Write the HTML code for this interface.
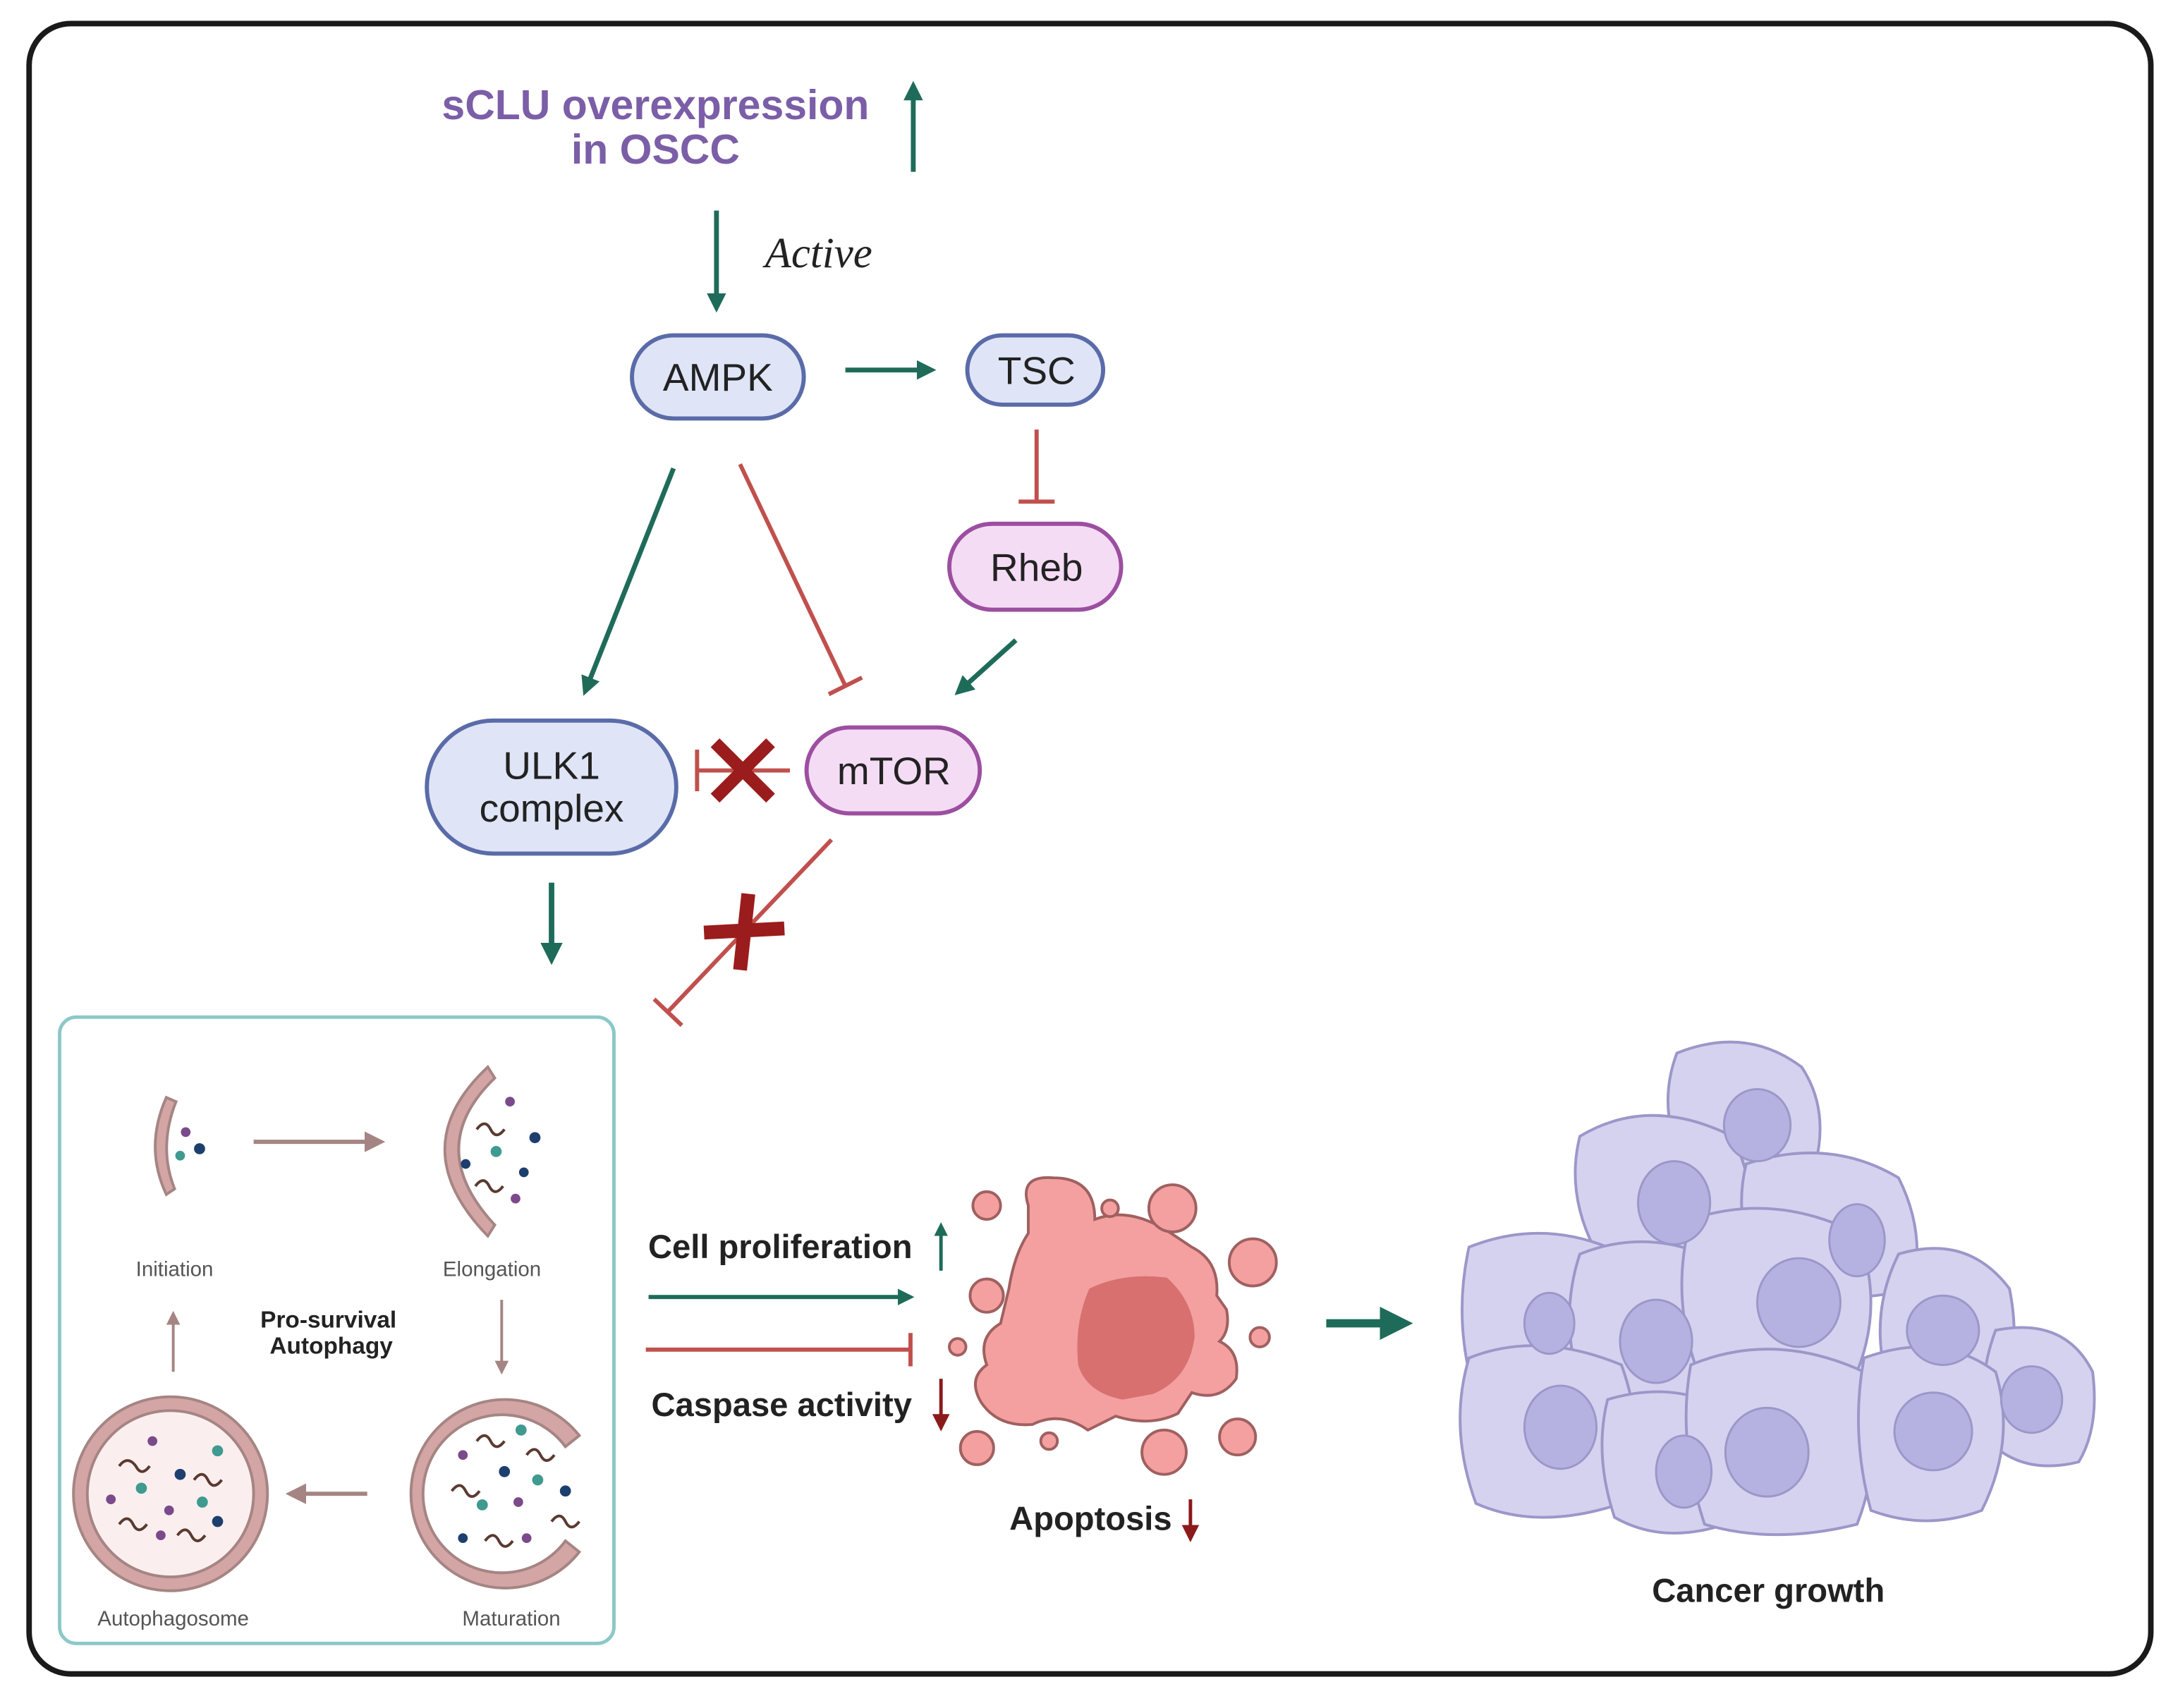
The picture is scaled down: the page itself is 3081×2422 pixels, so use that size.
<!DOCTYPE html>
<html><head><meta charset="utf-8"><style>
html,body{margin:0;padding:0;background:#fff;}
svg{display:block;}
text{font-family:"Liberation Sans",sans-serif;}
</style></head><body>
<svg width="3081" height="2422" viewBox="0 0 1568 1232.6" preserveAspectRatio="none" xmlns="http://www.w3.org/2000/svg">
<defs>
<marker id="ag" viewBox="0 0 10 10" refX="6" refY="5" markerWidth="4" markerHeight="4" orient="auto"><path d="M0,0 L10,5 L0,10 z" fill="#1f6b5a"/></marker>
<marker id="ab" viewBox="0 0 10 10" refX="6" refY="5" markerWidth="5" markerHeight="5" orient="auto"><path d="M0,0 L10,5 L0,10 z" fill="#a58583"/></marker>
<marker id="ar" viewBox="0 0 10 10" refX="6" refY="5" markerWidth="5" markerHeight="5" orient="auto"><path d="M0,0 L10,5 L0,10 z" fill="#8b1a1a"/></marker>
</defs>
<rect x="21" y="17" width="1531" height="1191" rx="30" fill="#fff" stroke="#1a1a1a" stroke-width="4"/>

<text x="473" y="86" font-size="30" font-weight="bold" fill="#7b5ea7" text-anchor="middle">sCLU overexpression</text>
<text x="473" y="118" font-size="30" font-weight="bold" fill="#7b5ea7" text-anchor="middle">in OSCC</text>
<line x1="659" y1="124" x2="659" y2="64" stroke="#1f6b5a" stroke-width="3.5" marker-end="url(#ag)"/>
<line x1="517" y1="152" x2="517" y2="220" stroke="#1f6b5a" stroke-width="3.5" marker-end="url(#ag)"/>
<text x="552" y="193" font-size="31" font-style="italic" fill="#222" style="font-family:'Liberation Serif',serif">Active</text>

<rect x="456" y="242" width="124" height="60" rx="30" fill="#dfe5f7" stroke="#5a6ba8" stroke-width="3"/>
<text x="518" y="282" font-size="28" fill="#222" text-anchor="middle">AMPK</text>
<line x1="610" y1="267" x2="670" y2="267" stroke="#1f6b5a" stroke-width="3.5" marker-end="url(#ag)"/>
<rect x="698" y="242" width="98" height="50" rx="25" fill="#dfe5f7" stroke="#5a6ba8" stroke-width="3"/>
<text x="748" y="277" font-size="28" fill="#222" text-anchor="middle">TSC</text>
<line x1="748" y1="310" x2="748" y2="362" stroke="#c0504d" stroke-width="3"/>
<line x1="735" y1="362" x2="761" y2="362" stroke="#c0504d" stroke-width="3"/>
<rect x="685" y="378" width="124" height="62" rx="31" fill="#f5dcf5" stroke="#9c4fa0" stroke-width="3"/>
<text x="748" y="419" font-size="28" fill="#222" text-anchor="middle">Rheb</text>
<line x1="733" y1="462" x2="693" y2="498" stroke="#1f6b5a" stroke-width="3.5" marker-end="url(#ag)"/>
<line x1="486" y1="338" x2="423" y2="497" stroke="#1f6b5a" stroke-width="3.5" marker-end="url(#ag)"/>
<line x1="534" y1="335" x2="610" y2="495" stroke="#c0504d" stroke-width="3"/>
<line x1="598" y1="501" x2="622" y2="489" stroke="#c0504d" stroke-width="3"/>

<rect x="308" y="520" width="180" height="96" rx="48" fill="#dfe5f7" stroke="#5a6ba8" stroke-width="3"/>
<text x="398" y="562" font-size="28" fill="#222" text-anchor="middle">ULK1</text>
<text x="398" y="593" font-size="28" fill="#222" text-anchor="middle">complex</text>
<rect x="582" y="525" width="125" height="62" rx="31" fill="#f5dcf5" stroke="#9c4fa0" stroke-width="3"/>
<text x="645" y="566" font-size="28" fill="#222" text-anchor="middle">mTOR</text>
<line x1="570" y1="556" x2="503" y2="556" stroke="#c0504d" stroke-width="3"/>
<line x1="503" y1="541" x2="503" y2="571" stroke="#c0504d" stroke-width="3"/>
<path d="M516,536 L556,576 M556,536 L516,576" stroke="#9b1c1c" stroke-width="9"/>
<line x1="398" y1="637" x2="398" y2="690" stroke="#1f6b5a" stroke-width="4" marker-end="url(#ag)"/>
<line x1="600" y1="606" x2="482" y2="730" stroke="#c0504d" stroke-width="3"/>
<line x1="472" y1="721" x2="492" y2="740" stroke="#c0504d" stroke-width="3"/>
<path d="M540,645 L534,700 M508,673 L566,670" stroke="#9b1c1c" stroke-width="10"/>

<rect x="43" y="734" width="400" height="452" rx="12" fill="#fff" stroke="#8cc8c8" stroke-width="2.5"/>
<g fill="#fbeeee" stroke="#a58583" stroke-width="2">
<path d="M120,792 Q104,828 120,862 L126,858 Q114,828 127,795 Z" fill="#d4a5a5"/>
<path d="M352,770 Q290,828 352,892 L357,884 Q305,828 357,778 Z" fill="#d4a5a5"/>
<circle cx="123" cy="1078" r="70" fill="#d4a5a5"/>
<circle cx="123" cy="1078" r="60" fill="#fbeeee"/>
<path d="M418,1120 A68,68 0 1 1 418,1036 L408,1044 A57,57 0 1 0 408,1112 Z" fill="#d4a5a5"/>
</g>
<g>
<circle cx="134" cy="817" r="3.5" fill="#7b4a8a"/><circle cx="144" cy="829" r="4" fill="#1d3f6e"/><circle cx="130" cy="834" r="3.5" fill="#3f9a8f"/>
<circle cx="368" cy="795" r="3.5" fill="#7b4a8a"/><circle cx="386" cy="821" r="4" fill="#1d3f6e"/><circle cx="358" cy="831" r="4" fill="#3f9a8f"/><circle cx="336" cy="840" r="3.5" fill="#1d3f6e"/><circle cx="378" cy="846" r="3.5" fill="#1d3f6e"/><circle cx="372" cy="865" r="3.5" fill="#7b4a8a"/>
<path d="M344,815 q6,-8 10,0 q4,8 10,0 M343,856 q6,-8 10,0 q4,8 10,0" stroke="#5a3a30" stroke-width="2" fill="none"/>
<circle cx="110" cy="1040" r="3.5" fill="#7b4a8a"/><circle cx="157" cy="1047" r="4" fill="#3f9a8f"/><circle cx="130" cy="1064" r="4" fill="#1d3f6e"/><circle cx="102" cy="1074" r="4" fill="#3f9a8f"/><circle cx="146" cy="1084" r="4" fill="#3f9a8f"/><circle cx="80" cy="1082" r="3.5" fill="#7b4a8a"/><circle cx="122" cy="1090" r="3.5" fill="#7b4a8a"/><circle cx="157" cy="1098" r="4" fill="#1d3f6e"/><circle cx="116" cy="1108" r="3.5" fill="#7b4a8a"/>
<path d="M86,1058 q6,-8 12,0 q4,8 10,0 M140,1068 q6,-8 10,0 q4,8 10,0 M86,1100 q6,-8 10,0 q4,8 10,0 M128,1108 q6,-8 10,0 q4,8 10,0" stroke="#5a3a30" stroke-width="2" fill="none"/>
<circle cx="376" cy="1032" r="4" fill="#3f9a8f"/><circle cx="334" cy="1050" r="3.5" fill="#7b4a8a"/><circle cx="364" cy="1062" r="4" fill="#1d3f6e"/><circle cx="388" cy="1068" r="4" fill="#3f9a8f"/><circle cx="408" cy="1076" r="4" fill="#1d3f6e"/><circle cx="348" cy="1086" r="4" fill="#3f9a8f"/><circle cx="374" cy="1084" r="3.5" fill="#7b4a8a"/><circle cx="334" cy="1110" r="3.5" fill="#1d3f6e"/><circle cx="380" cy="1110" r="3.5" fill="#7b4a8a"/>
<path d="M344,1040 q6,-8 10,0 q4,8 10,0 M380,1050 q6,-8 10,0 q4,8 10,0 M326,1076 q6,-8 10,0 q4,8 10,0 M398,1098 q6,-8 10,0 q4,8 10,0 M350,1112 q6,-8 10,0 q4,8 10,0" stroke="#5a3a30" stroke-width="2" fill="none"/>
</g>
<line x1="183" y1="824" x2="272" y2="824" stroke="#a58583" stroke-width="3" marker-end="url(#ab)"/>
<line x1="362" y1="938" x2="362" y2="988" stroke="#a58583" stroke-width="2" marker-end="url(#ab)"/>
<line x1="265" y1="1078" x2="212" y2="1078" stroke="#a58583" stroke-width="3" marker-end="url(#ab)"/>
<line x1="125" y1="990" x2="125" y2="950" stroke="#a58583" stroke-width="2" marker-end="url(#ab)"/>
<g font-size="15" fill="#555" text-anchor="middle">
<text x="126" y="921">Initiation</text><text x="355" y="921">Elongation</text>
<text x="125" y="1173">Autophagosome</text><text x="369" y="1173">Maturation</text>
</g>
<text x="237" y="958" font-size="17" font-weight="bold" fill="#222" text-anchor="middle">Pro-survival</text>
<text x="239" y="977" font-size="17" font-weight="bold" fill="#222" text-anchor="middle">Autophagy</text>

<text x="563" y="908" font-size="24" font-weight="bold" fill="#222" text-anchor="middle">Cell proliferation</text>
<line x1="679" y1="917" x2="679" y2="886" stroke="#1f6b5a" stroke-width="2.5" marker-end="url(#ag)"/>
<line x1="468" y1="936" x2="655" y2="936" stroke="#1f6b5a" stroke-width="3" marker-end="url(#ag)"/>
<line x1="466" y1="974" x2="657" y2="974" stroke="#c0504d" stroke-width="3"/>
<line x1="657" y1="962" x2="657" y2="986" stroke="#c0504d" stroke-width="3"/>
<text x="564" y="1022" font-size="24" font-weight="bold" fill="#222" text-anchor="middle">Caspase activity</text>
<line x1="679" y1="995" x2="679" y2="1028" stroke="#8b1a1a" stroke-width="2.5" marker-end="url(#ar)"/>

<g fill="#f4a0a0" stroke="#a06060" stroke-width="2">
<path d="M742,870 Q735,848 760,850 Q790,850 790,880 Q815,870 845,890 L860,900 Q880,910 878,935 L885,945 Q888,960 880,968 Q895,975 892,995 Q880,1012 860,1005 L850,1020 Q830,1030 805,1022 L785,1032 Q765,1018 745,1028 Q720,1030 708,1012 Q698,995 712,985 Q705,965 722,955 L728,930 Q732,905 742,890 Z"/>
<circle cx="712" cy="870" r="10"/><circle cx="801" cy="872" r="6"/><circle cx="846" cy="872" r="17"/><circle cx="904" cy="911" r="17"/><circle cx="712" cy="935" r="12"/><circle cx="691" cy="972" r="6"/><circle cx="909" cy="965" r="7"/><circle cx="705" cy="1045" r="12"/><circle cx="757" cy="1040" r="6"/><circle cx="840" cy="1048" r="16"/><circle cx="893" cy="1037" r="13"/>
</g>
<path d="M786,930 Q810,918 842,922 Q862,940 862,965 Q858,995 832,1006 L810,1010 Q784,1005 778,985 Q775,955 786,930 Z" fill="#d87070"/>
<line x1="957" y1="955" x2="1010" y2="955" stroke="#1f6b5a" stroke-width="6" marker-end="url(#ag)"/>
<text x="787" y="1104" font-size="24" font-weight="bold" fill="#222" text-anchor="middle">Apoptosis</text>
<line x1="859" y1="1082" x2="859" y2="1108" stroke="#8b1a1a" stroke-width="2.5" marker-end="url(#ar)"/>

<g fill="#d4d2ee" stroke="#9b97c9" stroke-width="2">
<path d="M1210,760 Q1260,740 1300,770 Q1320,800 1310,840 Q1260,860 1215,840 Q1195,800 1210,760 Z"/>
<path d="M1140,820 Q1190,790 1250,820 Q1270,860 1260,900 Q1210,920 1150,900 Q1130,860 1140,820 Z"/>
<path d="M1260,840 Q1320,820 1370,850 Q1390,890 1380,930 Q1320,945 1270,925 Q1250,880 1260,840 Z"/>
<path d="M1060,900 Q1110,880 1160,900 Q1180,950 1160,990 Q1110,1010 1060,990 Q1050,945 1060,900 Z"/>
<path d="M1370,905 Q1420,890 1450,930 Q1460,980 1440,1010 Q1390,1020 1360,990 Q1350,945 1370,905 Z"/>
<path d="M1440,960 Q1490,950 1510,990 Q1515,1030 1500,1055 Q1460,1065 1435,1040 Q1425,1000 1440,960 Z"/>
<path d="M1140,905 Q1190,885 1240,910 Q1260,960 1240,1000 Q1190,1020 1140,1000 Q1125,950 1140,905 Z"/>
<path d="M1220,880 Q1280,860 1340,890 Q1360,940 1340,990 Q1280,1010 1225,990 Q1205,935 1220,880 Z"/>
<path d="M1060,980 Q1110,960 1170,985 Q1190,1040 1170,1085 Q1110,1105 1065,1085 Q1045,1030 1060,980 Z"/>
<path d="M1160,1010 Q1210,995 1250,1020 Q1265,1065 1245,1100 Q1200,1115 1165,1095 Q1150,1050 1160,1010 Z"/>
<path d="M1220,985 Q1280,960 1345,990 Q1360,1050 1340,1100 Q1280,1115 1230,1100 Q1210,1040 1220,985 Z"/>
<path d="M1345,980 Q1400,960 1440,990 Q1455,1040 1430,1090 Q1390,1105 1350,1090 Q1335,1035 1345,980 Z"/>
</g>
<g fill="#b5b1e0" stroke="#9b97c9" stroke-width="1.5">
<ellipse cx="1268" cy="812" rx="24" ry="26"/><ellipse cx="1208" cy="868" rx="26" ry="30"/><ellipse cx="1340" cy="895" rx="20" ry="26"/>
<ellipse cx="1118" cy="955" rx="18" ry="22"/><ellipse cx="1402" cy="960" rx="26" ry="25"/><ellipse cx="1466" cy="1010" rx="22" ry="24"/>
<ellipse cx="1195" cy="968" rx="26" ry="30"/><ellipse cx="1298" cy="940" rx="30" ry="32"/><ellipse cx="1126" cy="1030" rx="26" ry="30"/>
<ellipse cx="1215" cy="1062" rx="20" ry="26"/><ellipse cx="1275" cy="1048" rx="30" ry="32"/><ellipse cx="1395" cy="1033" rx="28" ry="28"/>
</g>
<text x="1276" y="1156" font-size="24" font-weight="bold" fill="#222" text-anchor="middle">Cancer growth</text>
</svg>
</body></html>
